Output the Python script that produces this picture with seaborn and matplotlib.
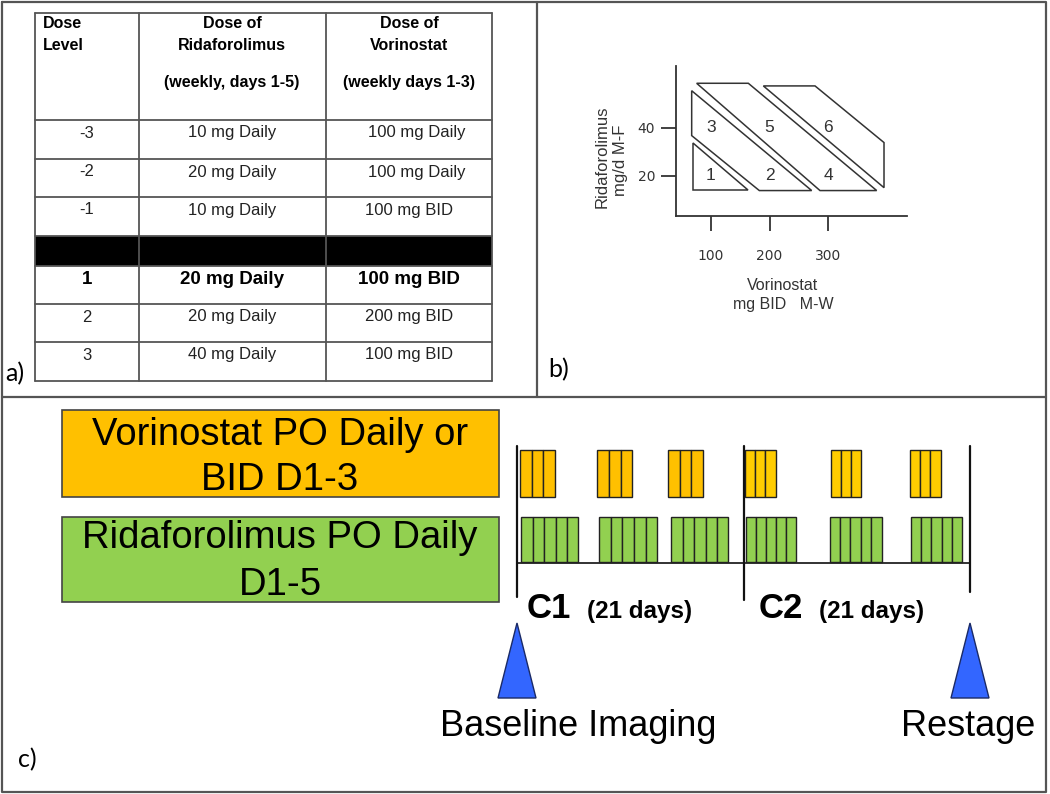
import numpy as np
import matplotlib
matplotlib.use("Agg")
import matplotlib.pyplot as plt
import seaborn as sns

sns.set_theme(style="white")
plt.rcParams['font.family'] = ['Liberation Sans', 'DejaVu Sans']
plt.rcParams['text.color'] = 'black'

# ---- data ----
# a) dose table
header_level = ["Dose", "Level"]
header_rida = ["Dose of", "Ridaforolimus", "(weekly, days 1-5)"]
header_vor = ["Dose of", "Vorinostat", "(weekly days 1-3)"]
dose_level = ["-3", "-2", "-1", "1", "2", "3"]
rida_dose = ["10 mg Daily", "20 mg Daily", "10 mg Daily", "20 mg Daily", "20 mg Daily", "40 mg Daily"]
vor_dose = ["100 mg Daily", "100 mg Daily", "100 mg BID", "100 mg BID", "200 mg BID", "100 mg BID"]
start_level = "1"

# b) dose escalation regions (vorinostat mg BID, ridaforolimus mg/d)
vor_ticks = [100, 200, 300]
rida_ticks = [20, 40]
region_labels = ["1", "2", "3", "4", "5", "6"]
region_vor = [100, 200, 100, 300, 200, 300]
region_rid = [20, 20, 40, 20, 40, 40]
region_shapes = [
    [(68.7, 33.9), (68.7, 14.2), (163.8, 14.2)],
    [(67.0, 55.5), (67.0, 36.8), (182.6, 13.9), (272.1, 13.9)],
    [(75.5, 58.6), (163.8, 58.6), (383.2, 13.9), (286.3, 13.9)],
    [(189.5, 57.5), (277.8, 57.5), (395.7, 33.9), (395.7, 15.1)],
]

# c) schedule, in days over two 21 day cycles
cycle_names = ["C1", "C2"]
cycle_len = 21
vor_start = [0.3, 7.4, 14.0, 21.1, 29.1, 36.4]
vor_len = [3.2, 3.3, 3.2, 2.9, 2.8, 2.9]
vor_ndays = 3
rida_start = [0.4, 7.6, 14.3, 21.2, 29.0, 36.5]
rida_len = [5.3, 5.4, 5.3, 4.7, 4.8, 4.8]
rida_ndays = 5
vor_label = ["Vorinostat PO Daily or", "BID D1-3"]
rida_label = ["Ridaforolimus PO Daily", "D1-5"]
imaging_days = [0, 42]
imaging_labels = ["Baseline Imaging", "Restage"]

ORANGE = "#FFC000"
ORANGE2 = "#FFCC00"
GREEN = "#92D050"
BLUE = "#3366FF"
FRAME = "#555555"

fig = plt.figure(figsize=(10.5, 7.94), dpi=100)
ax = fig.add_axes([0, 0, 1, 1])
ax.set_xlim(0, 1050)
ax.set_ylim(794, 0)
ax.axis("off")

# outer frame and panel dividers
ax.plot([1.5, 1046, 1046, 1.5, 1.5], [1.5, 1.5, 792, 792, 1.5], color=FRAME, lw=1.6)
ax.plot([537, 537], [1.5, 397], color=FRAME, lw=1.6)
ax.plot([1.5, 1046], [397, 397], color=FRAME, lw=1.6)

panel_font = ['Lato', 'DejaVu Sans']
ax.text(5, 374, "a)", fontsize=18, family=panel_font, va="center")
ax.text(548, 370, "b)", fontsize=18, family=panel_font, va="center")
ax.text(18, 760, "c)", fontsize=18, family=panel_font, va="center")

# ---- a) table ----
col_x = [35, 139, 326, 492]
row_y = [13, 120, 159, 197, 236, 266, 304, 342, 381]
ax.fill_between([col_x[0], col_x[-1]], row_y[4], row_y[5], color="black", lw=0)
for y in row_y:
    ax.plot([col_x[0], col_x[-1]], [y, y], color=FRAME, lw=1.3)
for x in col_x:
    ax.plot([x, x], [row_y[0], row_y[-1]], color=FRAME, lw=1.3)

for i, t in enumerate(header_level):
    ax.text(43, 24 + i * 21.5, t, fontsize=11.5, fontweight="bold", va="center", ha="left")
hdr_y = [24, 46, 83]
for t, y in zip(header_rida, hdr_y):
    ax.text(232, y, t, fontsize=11.5, fontweight="bold", va="center", ha="center")
for t, y in zip(header_vor, hdr_y):
    ax.text(409, y, t, fontsize=11.5, fontweight="bold", va="center", ha="center")

body_rows = [r for r in range(1, len(row_y) - 1) if r != 4]
for k, r in enumerate(body_rows):
    y = row_y[r] + 13
    bold = dose_level[k] == start_level
    kw = dict(fontsize=13.5 if bold else 12, fontweight="bold" if bold else "normal",
              va="center", ha="center", color="black" if bold else "#222222")
    ax.text(87, y, dose_level[k], **kw)
    ax.text(232, y, rida_dose[k], **kw)
    vx = 417 if vor_dose[k].endswith("Daily") else 409
    ax.text(vx, y, vor_dose[k], **kw)

# ---- b) dose escalation scheme ----
bx0, bx1, by0, by1 = 676, 907, 66, 216
axb = fig.add_axes([bx0 / 1050, 1 - by1 / 794, (bx1 - bx0) / 1050, (by1 - by0) / 794])
axb.set_facecolor("none")
axb.set_xlim(40.2, 435)
axb.set_ylim(3.3, 65.8)
sns.despine(ax=axb)
for s in ["left", "bottom"]:
    axb.spines[s].set_color("#333333")
    axb.spines[s].set_linewidth(1.3)
for shape in region_shapes:
    xs, ys = zip(*shape)
    axb.fill(xs, ys, facecolor="white", edgecolor="#333333", lw=1.1)
for lab, xv, yv in zip(region_labels, region_vor, region_rid):
    axb.text(xv, yv, lab, fontsize=12.5, ha="center", va="center", color="#333333")
axb.set_xticks(vor_ticks)
axb.set_yticks(rida_ticks)
axb.set_xticklabels([str(v) for v in vor_ticks], family="DejaVu Sans", fontsize=10, color="#333333")
axb.set_yticklabels([str(v) for v in rida_ticks], family="DejaVu Sans", fontsize=10, color="#333333")
axb.tick_params(axis="x", direction="out", length=11, width=1.3, color="#333333", pad=13, bottom=True)
axb.tick_params(axis="y", direction="out", length=11, width=1.3, color="#333333", pad=4, left=True)

ax.text(783, 285, "Vorinostat", fontsize=11.5, ha="center", va="center", color="#333333")
ax.text(783, 305, "mg BID   M-W", fontsize=11.5, ha="center", va="center", color="#333333")
ax.text(602, 157, "Ridaforolimus", fontsize=12, rotation=90, ha="center", va="center", color="#333333")
ax.text(620, 160, "mg/d M-F", fontsize=12, rotation=90, ha="center", va="center", color="#333333")

# ---- c) schedule ----
ax.add_patch(plt.Rectangle((62, 410), 437, 87, facecolor=ORANGE, edgecolor="#444444", lw=1.2))
ax.add_patch(plt.Rectangle((62, 517), 437, 85, facecolor=GREEN, edgecolor="#444444", lw=1.2))
for t, y in zip(vor_label, [445, 490]):
    ax.text(280, y, t, fontsize=27.5, ha="center", va="baseline")
for t, y in zip(rida_label, [548, 595]):
    ax.text(280, y, t, fontsize=27.5, ha="center", va="baseline")

tx0, tx1, ty0, ty1 = 517, 970, 440, 605
axt = fig.add_axes([tx0 / 1050, 1 - ty1 / 794, (tx1 - tx0) / 1050, (ty1 - ty0) / 794])
axt.set_facecolor("none")
axt.axis("off")
n_cycles = len(cycle_names)
axt.set_xlim(0, cycle_len * n_cycles)
axt.set_ylim(ty1, ty0)

for i, (s, w) in enumerate(zip(vor_start, vor_len)):
    col = ORANGE if s < cycle_len else ORANGE2
    d = w / vor_ndays
    axt.bar(s + np.arange(vor_ndays) * d, 47, width=d, bottom=450, align="edge",
            color=col, edgecolor="#222222", lw=1.0)
for i, (s, w) in enumerate(zip(rida_start, rida_len)):
    d = w / rida_ndays
    axt.bar(s + np.arange(rida_ndays) * d, 45, width=d, bottom=517, align="edge",
            color=GREEN, edgecolor="#222222", lw=1.0)

axt.plot([0, cycle_len * n_cycles], [562.5, 562.5], color="#222222", lw=1.3, clip_on=False)
line_end = [597, 600, 592]
for c in range(n_cycles + 1):
    axt.plot([c * cycle_len, c * cycle_len], [446, line_end[c]], color="#111111", lw=1.6, clip_on=False)

cycle_px = [527, 759]
for name, x in zip(cycle_names, cycle_px):
    ax.text(x, 618, name, fontsize=25, fontweight="bold", ha="left", va="baseline")
    ax.text(x + 60, 618, "(%d days)" % cycle_len, fontsize=17.5, fontweight="bold", ha="left", va="baseline")

# imaging markers
day_px = (tx1 - tx0) / (cycle_len * n_cycles)
label_x = [578, 968]
for d, lab, lx in zip(imaging_days, imaging_labels, label_x):
    cx = tx0 + d * day_px
    ax.fill([cx, cx - 19, cx + 19], [623, 698, 698], facecolor=BLUE, edgecolor="#1a2a66", lw=1.0)
    ax.text(lx, 736, lab, fontsize=26, ha="center", va="baseline")

fig.savefig("out.png", dpi=100)
